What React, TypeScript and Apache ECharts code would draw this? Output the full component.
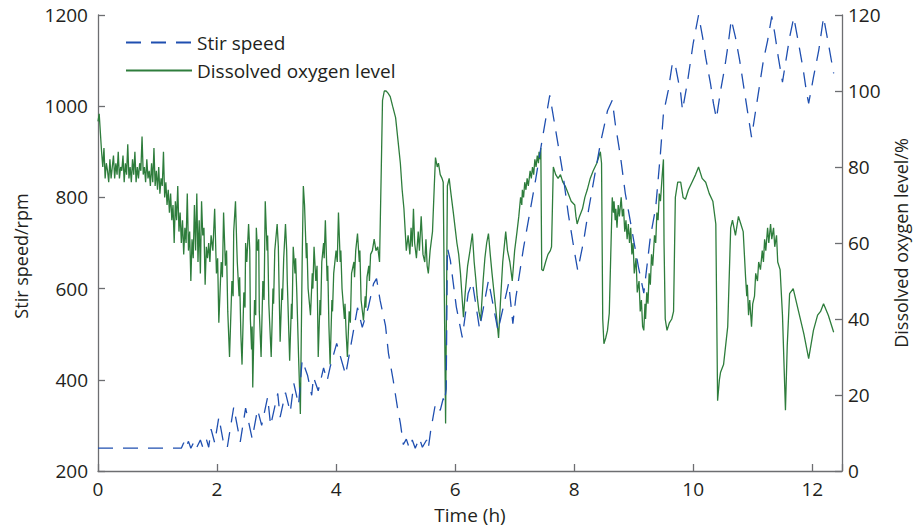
import React, { useEffect, useRef } from 'react';
import * as echarts from 'echarts';

const seriesNames = ['Stir speed', 'Dissolved oxygen level'];
const axisNames = { x: 'Time (h)', left: 'Stir speed/rpm', right: 'Dissolved oxygen level/%' };

// Stir speed (rpm) vs time (h)
const stirPoints: [number, number][] = [
  [0, 250], [1.40, 250], [1.44, 262], [1.47, 250], [1.52, 265], [1.56, 250], [1.62, 266], [1.66, 252],
  [1.72, 268], [1.76, 252], [1.82, 270], [1.86, 252], [1.90, 292], [1.96, 262], [2.03, 318], [2.10, 268],
  [2.17, 250], [2.28, 340], [2.39, 264], [2.48, 338], [2.59, 271], [2.68, 335], [2.75, 300], [2.85, 362],
  [2.90, 300], [3.02, 370], [3.06, 318], [3.15, 372], [3.23, 329], [3.29, 392], [3.37, 345], [3.43, 443],
  [3.52, 410], [3.59, 366], [3.62, 406], [3.70, 376], [3.79, 426], [3.85, 398], [3.90, 428], [4.01, 480],
  [4.16, 411], [4.24, 469], [4.36, 558], [4.44, 515], [4.54, 558], [4.63, 611], [4.68, 622], [4.74, 574],
  [4.83, 519], [4.88, 458], [4.96, 399], [5.03, 340], [5.08, 305], [5.13, 258], [5.18, 270], [5.23, 250],
  [5.28, 268], [5.33, 250], [5.40, 272], [5.45, 252], [5.52, 268], [5.55, 250], [5.59, 289], [5.67, 348],
  [5.75, 333], [5.80, 359], [5.82, 350], [5.85, 380], [5.87, 690], [5.92, 662], [6.02, 560], [6.12, 493],
  [6.22, 590], [6.29, 614], [6.41, 512], [6.56, 618], [6.72, 508], [6.90, 612], [6.97, 523], [7.02, 580],
  [7.15, 690], [7.27, 778], [7.35, 837], [7.47, 932], [7.59, 1024], [7.69, 947], [7.81, 853], [7.90, 765],
  [8.01, 677], [8.06, 640], [8.16, 705], [8.24, 771], [8.32, 830], [8.44, 918], [8.56, 990], [8.64, 1013],
  [8.69, 962], [8.78, 888], [8.86, 808], [8.95, 743], [9.08, 647], [9.17, 590], [9.28, 713], [9.37, 778],
  [9.45, 897], [9.50, 984], [9.58, 1034], [9.65, 1094], [9.69, 1096], [9.79, 1028], [9.82, 991], [9.90, 1050],
  [10.00, 1138], [10.09, 1200], [10.16, 1150], [10.21, 1107], [10.29, 1050], [10.34, 1006], [10.39, 973],
  [10.46, 1034], [10.53, 1085], [10.59, 1138], [10.64, 1190], [10.71, 1151], [10.78, 1101], [10.84, 1050],
  [10.91, 991], [10.98, 932], [11.05, 991], [11.12, 1050], [11.18, 1101], [11.25, 1144], [11.32, 1197],
  [11.37, 1160], [11.43, 1107], [11.50, 1053], [11.55, 1094], [11.62, 1151], [11.69, 1195], [11.77, 1138],
  [11.85, 1079], [11.90, 1034], [11.94, 1006], [12.02, 1063], [12.11, 1123], [12.19, 1195], [12.27, 1138],
  [12.36, 1072],
];

// Dissolved oxygen level (%) vs time (h)
const oxygenPoints: [number, number][] = [
  [0.00, 92], [0.02, 94], [0.04, 89], [0.06, 84], [0.08, 80], [0.10, 85], [0.12, 77], [0.14, 81], [0.16, 79],
  [0.18, 76], [0.20, 82], [0.22, 77], [0.24, 80], [0.26, 83], [0.28, 77], [0.30, 81], [0.32, 78], [0.34, 84],
  [0.36, 77], [0.38, 80], [0.40, 79], [0.42, 83], [0.44, 76], [0.46, 81], [0.48, 78], [0.50, 86], [0.52, 77],
  [0.54, 80], [0.56, 76], [0.58, 82], [0.60, 78], [0.62, 84], [0.64, 76], [0.66, 80], [0.68, 77], [0.70, 81],
  [0.72, 79], [0.74, 88], [0.76, 78], [0.78, 80], [0.80, 76], [0.82, 82], [0.84, 77], [0.86, 79], [0.88, 75],
  [0.90, 81], [0.92, 76], [0.94, 85], [0.96, 75], [0.98, 79], [1.00, 74], [1.02, 80], [1.04, 73], [1.06, 77],
  [1.08, 75], [1.10, 84], [1.12, 72], [1.14, 76], [1.16, 70], [1.18, 74], [1.20, 68], [1.22, 73], [1.24, 66],
  [1.26, 70], [1.28, 60], [1.30, 71], [1.32, 66], [1.34, 75], [1.36, 63], [1.38, 68], [1.40, 60], [1.42, 66],
  [1.44, 57], [1.46, 64], [1.48, 60], [1.50, 73], [1.52, 58], [1.54, 63], [1.56, 50], [1.58, 61], [1.60, 56],
  [1.62, 70], [1.64, 58], [1.66, 73], [1.68, 55], [1.70, 66], [1.72, 52], [1.74, 71], [1.76, 62], [1.78, 64],
  [1.80, 49], [1.82, 59], [1.84, 56], [1.86, 60], [1.88, 55], [1.90, 62], [1.93, 58], [1.96, 69], [1.99, 52],
  [2.01, 56], [2.03, 39], [2.07, 55], [2.09, 51], [2.11, 68], [2.14, 54], [2.16, 58], [2.18, 42], [2.21, 30],
  [2.25, 50], [2.27, 46], [2.28, 63], [2.31, 71], [2.33, 60], [2.34, 55], [2.37, 46], [2.38, 51], [2.40, 36],
  [2.42, 28], [2.45, 47], [2.47, 43], [2.48, 60], [2.50, 55], [2.53, 65], [2.55, 58], [2.56, 40], [2.58, 32],
  [2.59, 38], [2.60, 22], [2.63, 45], [2.65, 41], [2.66, 64], [2.68, 58], [2.70, 61], [2.71, 42], [2.74, 30],
  [2.77, 50], [2.79, 45], [2.81, 71], [2.84, 58], [2.85, 62], [2.87, 44], [2.91, 30], [2.94, 48], [2.95, 44],
  [2.97, 58], [3.01, 65], [3.03, 59], [3.04, 50], [3.06, 34], [3.09, 48], [3.10, 45], [3.12, 56], [3.15, 65],
  [3.17, 58], [3.18, 50], [3.22, 29], [3.25, 44], [3.26, 40], [3.28, 59], [3.31, 52], [3.32, 56], [3.34, 47],
  [3.37, 30], [3.40, 15], [3.43, 55], [3.45, 75], [3.47, 70], [3.50, 56], [3.51, 60], [3.53, 48], [3.57, 41],
  [3.60, 52], [3.61, 48], [3.63, 59], [3.66, 50], [3.68, 54], [3.70, 30], [3.73, 45], [3.74, 41], [3.76, 55],
  [3.79, 60], [3.80, 56], [3.82, 66], [3.85, 50], [3.86, 54], [3.88, 38], [3.90, 28], [3.93, 45], [3.94, 42],
  [3.96, 52], [4.00, 58], [4.02, 55], [4.04, 68], [4.07, 55], [4.08, 58], [4.10, 48], [4.14, 40], [4.15, 44],
  [4.17, 36], [4.19, 30], [4.22, 42], [4.24, 39], [4.26, 52], [4.30, 55], [4.31, 51], [4.33, 58], [4.36, 62.5],
  [4.39, 55], [4.40, 58], [4.42, 45], [4.46, 39.6], [4.49, 46], [4.50, 43], [4.52, 51], [4.55, 54], [4.56, 50],
  [4.58, 57], [4.61, 58], [4.64, 61], [4.67, 58], [4.70, 59], [4.73, 55],
  [4.76, 80], [4.78, 97.5], [4.81, 100], [4.84, 100], [4.87, 99.5], [4.91, 98.5], [4.95, 96], [5.00, 93],
  [5.04, 87], [5.08, 81], [5.11, 74], [5.14, 69], [5.18, 58], [5.21, 62], [5.24, 57], [5.26, 64], [5.28, 59],
  [5.30, 69], [5.32, 60], [5.35, 56], [5.38, 63], [5.40, 58], [5.43, 67], [5.46, 57], [5.49, 55], [5.51, 61],
  [5.53, 54], [5.55, 52], [5.58, 58], [5.62, 63], [5.65, 75], [5.67, 82.5], [5.70, 80], [5.72, 81], [5.75, 78],
  [5.78, 77], [5.80, 76], [5.84, 12.5], [5.87, 75], [5.90, 77], [5.93, 73], [5.97, 68], [6.00, 64], [6.03, 60],
  [6.06, 57], [6.09, 52], [6.12, 45], [6.14, 40.5], [6.17, 47], [6.21, 54], [6.25, 58], [6.29, 62.5],
  [6.32, 55], [6.35, 50], [6.37, 46], [6.40, 42], [6.43, 39.6], [6.47, 50], [6.50, 56], [6.53, 60],
  [6.56, 62.5], [6.59, 57], [6.62, 52], [6.66, 46], [6.70, 40], [6.73, 35], [6.76, 44], [6.80, 55], [6.85, 63],
  [6.88, 58], [6.92, 55], [6.96, 50], [7.00, 58], [7.04, 63], [7.07, 67], [7.10, 72], [7.12, 70], [7.13, 74],
  [7.15, 72], [7.17, 76], [7.19, 74], [7.21, 77], [7.23, 75], [7.26, 79], [7.28, 77], [7.30, 80], [7.32, 78],
  [7.34, 82], [7.36, 80], [7.38, 83], [7.40, 81], [7.41, 84], [7.43, 82], [7.44, 85], [7.455, 53], [7.48, 52.7],
  [7.52, 55], [7.56, 57], [7.60, 58], [7.62, 59], [7.65, 80], [7.69, 78], [7.73, 77], [7.77, 78], [7.81, 76],
  [7.85, 75], [7.90, 73], [7.95, 71], [8.01, 70], [8.03, 67], [8.05, 65], [8.09, 67], [8.14, 69], [8.18, 72],
  [8.22, 74], [8.27, 77], [8.32, 79], [8.38, 81], [8.44, 84], [8.46, 81], [8.48, 40], [8.50, 33.5], [8.53, 35],
  [8.56, 37], [8.59, 41.5], [8.62, 60], [8.64, 72], [8.66, 68], [8.67, 71], [8.69, 66], [8.70, 69], [8.72, 64],
  [8.74, 70], [8.76, 67], [8.79, 72], [8.81, 67], [8.83, 69], [8.85, 63], [8.87, 66], [8.89, 61], [8.91, 65],
  [8.93, 60], [8.95, 64], [8.97, 57], [8.99, 60], [9.01, 52], [9.04, 56], [9.06, 47], [9.09, 50], [9.11, 42],
  [9.13, 45], [9.15, 38], [9.17, 37], [9.19, 44], [9.20, 40], [9.22, 47], [9.24, 44], [9.26, 52], [9.28, 49],
  [9.30, 57], [9.32, 54], [9.35, 62], [9.37, 60], [9.39, 68], [9.41, 66], [9.43, 73], [9.45, 71], [9.48, 78],
  [9.50, 82], [9.51, 60], [9.53, 40], [9.56, 37], [9.60, 39], [9.64, 40], [9.67, 42], [9.70, 72], [9.74, 76],
  [9.79, 76], [9.83, 72], [9.87, 71.5], [9.92, 74], [9.98, 76], [10.04, 78], [10.09, 80], [10.15, 77],
  [10.21, 76], [10.27, 73], [10.33, 71], [10.38, 65], [10.41, 18.5], [10.44, 24], [10.46, 26], [10.51, 28],
  [10.58, 38], [10.63, 64], [10.66, 66], [10.71, 62], [10.76, 67], [10.80, 65], [10.84, 63], [10.88, 51],
  [10.90, 46], [10.91, 49], [10.93, 41], [10.95, 45], [10.98, 38], [11.00, 44], [11.03, 46], [11.05, 52],
  [11.08, 50], [11.10, 55], [11.13, 53], [11.16, 58], [11.18, 55], [11.20, 61], [11.22, 58], [11.25, 64],
  [11.27, 60], [11.30, 65], [11.32, 61], [11.35, 64], [11.37, 59], [11.40, 62], [11.42, 55], [11.46, 53],
  [11.50, 41], [11.55, 16], [11.58, 33], [11.62, 46.7], [11.68, 48], [11.77, 42], [11.86, 36], [11.94, 29.6],
  [12.02, 37], [12.09, 41], [12.14, 42], [12.19, 44], [12.27, 41], [12.36, 36.5],
];

const FONT = 'Open Sans';
const TEXT = '#231f20';
const AXIS = '#6d6e71';

export default function App() {
  const ref = useRef<HTMLDivElement>(null);
  useEffect(() => {
    if (!ref.current) return;
    const chart = echarts.init(ref.current, undefined, { renderer: 'svg' });
    const axisLine = { show: true, lineStyle: { color: AXIS, width: 1.3 } };
    const axisTick = { show: true, inside: true, length: 7, lineStyle: { color: AXIS, width: 1.3 } };
    chart.setOption({
      animation: false,
      backgroundColor: '#fff',
      textStyle: { fontFamily: FONT },
      grid: { left: 98, right: 73, top: 15, bottom: 60, containLabel: false, outerBoundsMode: 'none' },
      legend: {
        data: seriesNames,
        orient: 'vertical',
        left: 120,
        top: 28,
        itemWidth: 66,
        itemHeight: 20,
        itemGap: 9,
        itemStyle: { color: 'transparent', borderWidth: 0, opacity: 0 },
        textStyle: { fontFamily: FONT, fontSize: 19, color: TEXT },
      },
      xAxis: {
        type: 'value',
        min: 0,
        max: 12.5,
        interval: 2,
        name: axisNames.x,
        nameLocation: 'middle',
        nameGap: 34,
        nameTextStyle: { fontFamily: FONT, fontSize: 19, color: TEXT },
        axisLine,
        axisTick,
        splitLine: { show: false },
        axisLabel: {
          fontFamily: FONT, fontSize: 19, color: TEXT, margin: 8,
          formatter: (v: number) => (v % 2 === 0 ? String(v) : ''),
        },
      },
      yAxis: [
        {
          type: 'value',
          min: 200,
          max: 1200,
          interval: 200,
          position: 'left',
          name: axisNames.left,
          nameLocation: 'middle',
          nameRotate: 90,
          nameGap: 68,
          nameTextStyle: { fontFamily: FONT, fontSize: 18, color: TEXT, padding: [0, 0, 0, -26] },
          axisLine,
          axisTick,
          splitLine: { show: false },
          axisLabel: { fontFamily: FONT, fontSize: 19, color: TEXT, margin: 10, formatter: (v: number) => String(v) },
        },
        {
          type: 'value',
          min: 0,
          max: 120,
          interval: 20,
          position: 'right',
          name: axisNames.right,
          nameLocation: 'middle',
          nameRotate: 90,
          nameGap: 50,
          nameTextStyle: { fontFamily: FONT, fontSize: 18, color: TEXT },
          axisLine,
          axisTick,
          splitLine: { show: false },
          axisLabel: { fontFamily: FONT, fontSize: 19, color: TEXT, margin: 6, formatter: (v: number) => String(v) },
        },
      ],
      series: [
        {
          name: seriesNames[1],
          type: 'line',
          yAxisIndex: 1,
          data: oxygenPoints,
          showSymbol: false,
          symbol: 'none',
          z: 2,
          lineStyle: { color: '#2e7d3c', width: 1.3 },
          itemStyle: { color: '#2e7d3c' },
        },
        {
          name: seriesNames[0],
          type: 'line',
          yAxisIndex: 0,
          data: stirPoints,
          showSymbol: false,
          symbol: 'none',
          z: 3,
          lineStyle: { color: '#1f4fb0', width: 1.3, type: [15, 10] },
          itemStyle: { color: '#1f4fb0' },
        },
      ],
    });
    return () => chart.dispose();
  }, []);
  return (
    <div
      ref={ref}
      style={{ position: 'fixed', left: 0, top: 0, width: 915, height: 531, background: '#fff' }}
    />
  );
}
